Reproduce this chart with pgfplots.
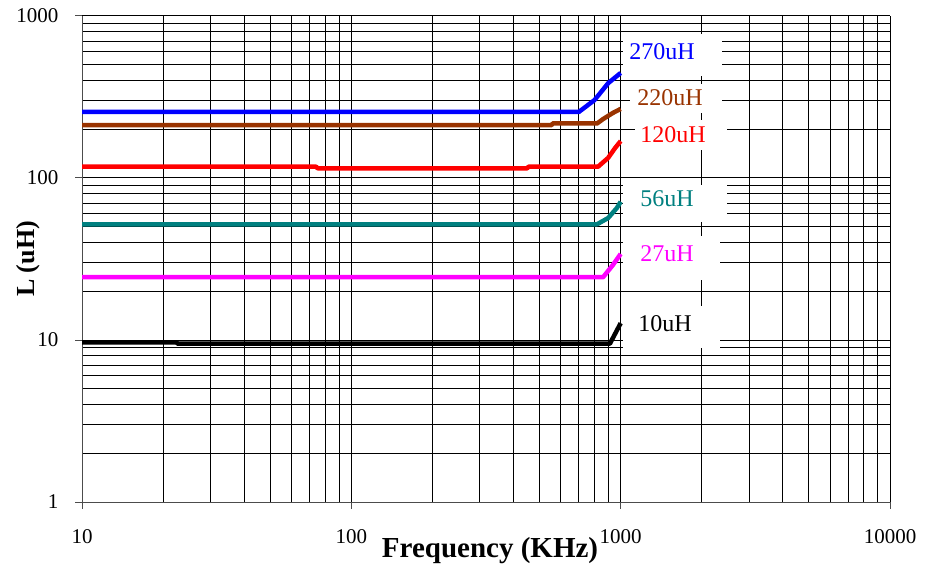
\documentclass[border=0pt]{standalone}
\usepackage{fontspec}
\setmainfont{Liberation Serif}
\usepackage{pgfplots}
\pgfplotsset{compat=1.18}

\definecolor{cblue}{HTML}{0000FF}
\definecolor{cbrown}{HTML}{993300}
\definecolor{cred}{HTML}{FF0000}
\definecolor{cteal}{HTML}{008080}
\definecolor{cmag}{HTML}{FF00FF}

\begin{document}
\begin{tikzpicture}
\begin{axis}[
    at={(0,0)}, anchor=south west,
    scale only axis,
    width=808bp, height=486bp,
    xmode=log, ymode=log,
    xmin=10, xmax=10000, ymin=1, ymax=1000,
    xtick={10,100,1000,10000},
    xticklabels={10,100,1000,10000},
    ytick={1,10,100,1000},
    yticklabels={1,10,100,1000},
    axis x line=bottom, axis y line=left,
    axis line style={-, line width=1bp, draw=black!70},
    tick align=outside,
    major tick length=7bp, minor tick length=0pt,
    tick style={line width=1bp, draw=black!70},
    grid=both,
    major grid style={line width=1bp, draw=black},
    minor grid style={line width=1bp, draw=black},
    ticklabel style={font=\fontsize{21bp}{24bp}\selectfont},
    xticklabel style={yshift=-17bp},
    yticklabel style={xshift=-13bp},
    xlabel={\textbf{Frequency (KHz)}},
    ylabel={\textbf{L (uH)}},
    xlabel style={at={(axis description cs:0.505,0)}, anchor=center, yshift=-49bp,
        font=\fontsize{29bp}{32bp}\selectfont},
    ylabel style={at={(axis description cs:0,0.5)}, anchor=center, yshift=54bp,
        font=\fontsize{26bp}{30bp}\selectfont},
    every axis plot/.append style={line width=4.5bp, line join=round, no markers},
]
% 270uH
\addplot[cblue] coordinates {
    (10,256) (400,256) (700,256) (800,303) (900,386) (1000,445)
};
% 220uH
\addplot[cbrown] coordinates {
    (10,212) (555,212) (558,217) (817,217) (860,231) (935,252) (1000,267)
};
% 120uH
\addplot[cred] coordinates {
    (10,117.4) (74,117.4) (75,114.8) (450,114.8) (455,117.4) (824,117.4)
    (898,133) (953,153) (1000,169)
};
% 56uH
\addplot[cteal] coordinates {
    (10,51.8) (817,51.8) (898,56.6) (968,65.3) (1000,71.4)
};
% 27uH
\addplot[cmag] coordinates {
    (10,24.4) (860,24.4) (935,29) (1000,34)
};
% 10uH
\addplot[black] coordinates {
    (10,9.68) (22.5,9.68) (22.6,9.49) (912,9.49) (1000,12.7)
};
\end{axis}

% data label boxes (1bp = 1px of the reference, origin at axis corner)
\fill[white] (541bp,426bp) rectangle (640bp,468bp);
\fill[white] (548bp,389bp) rectangle (640bp,418bp);
\fill[white] (553bp,352bp) rectangle (645bp,382bp);
\fill[white] (541bp,280bp) rectangle (645bp,317bp);
\fill[white] (541bp,222bp) rectangle (638bp,266bp);
\fill[white] (541bp,154bp) rectangle (638bp,196bp);

\begin{scope}[every node/.style={font=\fontsize{24bp}{27bp}\selectfont, inner sep=0pt}]
\node[text=cblue]  at (580bp,450bp) {270uH};
\node[text=cbrown] at (588bp,404bp) {220uH};
\node[text=cred]   at (591bp,367bp) {120uH};
\node[text=cteal]  at (585bp,303bp) {56uH};
\node[text=cmag]   at (585bp,248bp) {27uH};
\node[text=black]  at (583bp,178bp) {10uH};
\end{scope}

\pgfresetboundingbox
\path[use as bounding box] (-82bp,-67bp) rectangle (844bp,502bp);
\end{tikzpicture}
\end{document}
